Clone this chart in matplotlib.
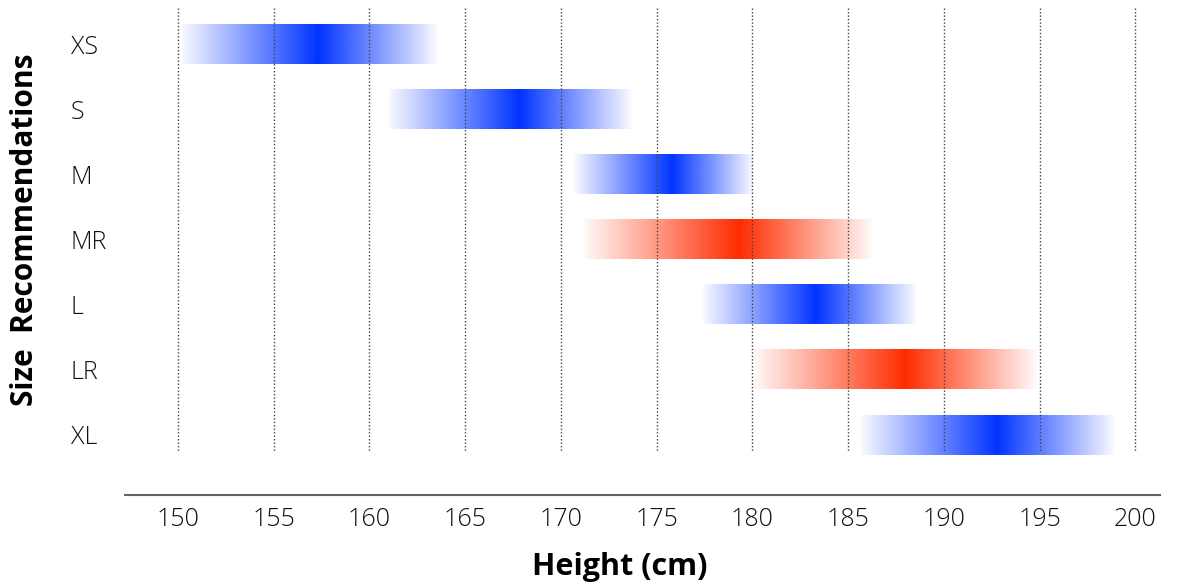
import matplotlib
matplotlib.use('Agg')
import matplotlib.pyplot as plt
import numpy as np

sizes = ["XS", "S", "M", "MR", "L", "LR", "XL"]
start = [150.2, 161.0, 170.7, 171.2, 177.4, 180.1, 185.7]
peak = [157.3, 167.8, 175.8, 179.3, 183.3, 188.0, 192.8]
end = [163.5, 173.6, 180.0, 186.2, 188.5, 194.8, 198.9]
regular = [True, True, True, False, True, False, True]
ticks = [150, 155, 160, 165, 170, 175, 180, 185, 190, 195, 200]

blue = (0.0, 0.2, 1.0)
red = (1.0, 0.17, 0.0)

plt.rcParams['font.family'] = ['Open Sans', 'DejaVu Sans']

fig = plt.figure(figsize=(11.79, 5.85), dpi=100)
ax = fig.add_axes([0.106, 0.154, 0.878, 0.832])

for i in range(len(sizes)):
    xs = np.linspace(start[i], end[i], 400)
    alpha = np.interp(xs, [start[i], peak[i], end[i]], [0.03, 1.0, 0.03])
    img = np.zeros((1, len(xs), 4))
    img[0, :, :3] = blue if regular[i] else red
    img[0, :, 3] = alpha
    ax.imshow(img, extent=(start[i], end[i], i + 0.3, i - 0.3),
              aspect='auto', interpolation='bilinear', zorder=2)

ax.vlines(ticks, -0.55, 6.26, colors='#444444', linestyles=(0, (1, 1.5)),
          linewidth=1, zorder=3)

ax.set_xlim(147.23, 201.3)
ax.set_ylim(6.92, -0.55)

for s in ['top', 'right', 'left']:
    ax.spines[s].set_visible(False)
ax.spines['bottom'].set_color('#666666')
ax.spines['bottom'].set_linewidth(1.5)

ax.set_xticks(ticks)
ax.set_xticklabels([str(t) for t in ticks], fontsize=18, fontweight='light',
                   color='#111111')
ax.tick_params(axis='x', length=0, pad=9)
ax.set_yticks(range(len(sizes)))
ax.set_yticklabels(sizes, fontsize=18, fontweight='light', color='#111111')
ax.tick_params(axis='y', length=0, pad=39)
for lab in ax.get_yticklabels():
    lab.set_ha('left')

fig.text(0.526, 0.031, "Height (cm)", fontsize=22, fontweight='bold',
         ha='center', va='center')
fig.text(0.021, 0.607, "Size  Recommendations", fontsize=21.5, fontweight='bold',
         ha='center', va='center', rotation=90)

plt.savefig('out.png', dpi=100)
